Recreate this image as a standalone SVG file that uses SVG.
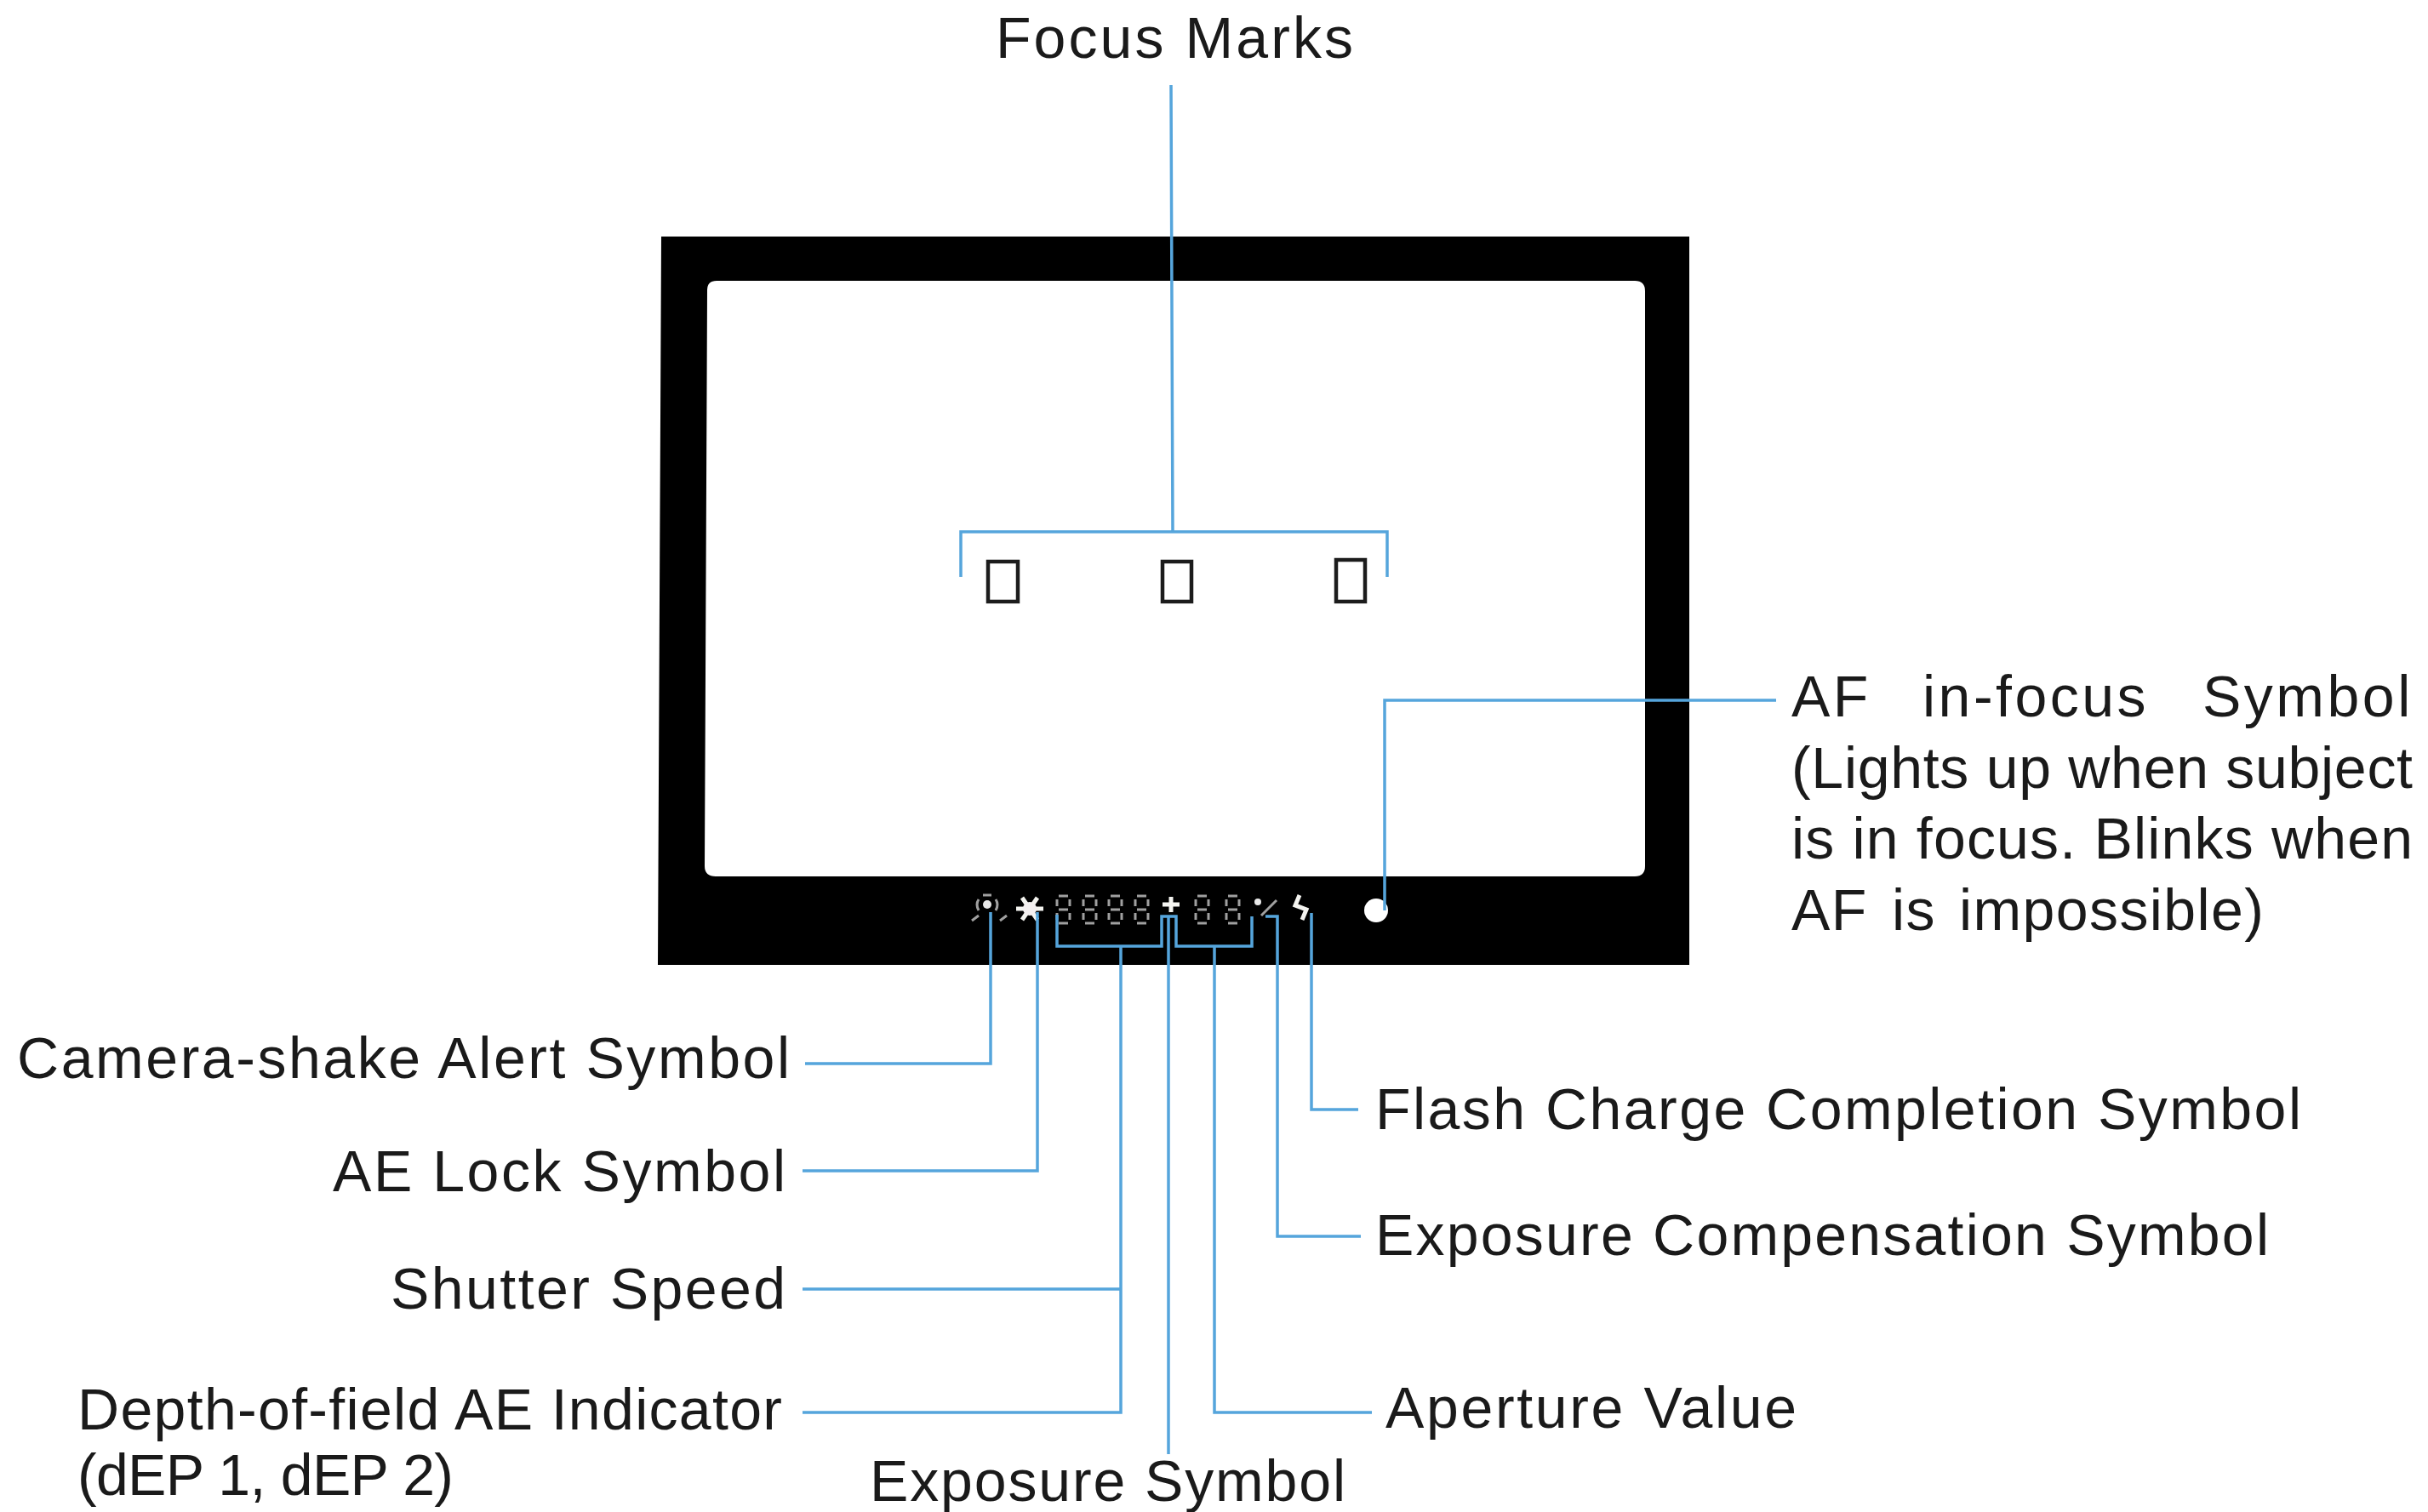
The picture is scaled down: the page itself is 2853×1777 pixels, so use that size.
<svg xmlns="http://www.w3.org/2000/svg" width="2853" height="1777" viewBox="0 0 2853 1777">
<style>
text{font-family:"Liberation Sans",Arial,sans-serif;font-size:68px;fill:#1a1a1a}
.c{fill:none;stroke:#55a5dc;stroke-width:3.5}
.m{fill:none;stroke:#1c1c1c;stroke-width:4.5}
.s{fill:none;stroke:#a0a0a0;stroke-width:3}
.w{fill:none;stroke:#f4f4f0;stroke-width:5}
</style>
<defs>
<g id="seg"><path class="s" d="M5 1H16M3 5V13M18 5V13M5 17H16M3 21V29M18 21V29M5 33H16"/></g>
</defs>
<g id="viewfinder">
<path fill="#000" fill-rule="evenodd" d="M777 278H1985V1134H773ZM842 330Q831 330 831 341L828 1018Q828 1030 841 1030H1921Q1933 1030 1933 1018V342Q1933 330 1921 330Z"/>
</g>
<g id="focus-marks">
<rect class="m" x="1161" y="660" width="35" height="47"/>
<rect class="m" x="1366" y="660" width="34" height="47"/>
<rect class="m" x="1570" y="658" width="34" height="49"/>
<text x="1170" y="68" textLength="420">Focus Marks</text>
</g>
<g id="display-symbols">
<circle cx="1160" cy="1063" r="5" fill="#e8e8e8"/>
<path class="s" d="M1150 1057Q1146 1063 1150 1070M1170 1057Q1174 1063 1170 1070M1155 1052H1165M1142 1082L1150 1076M1175 1082L1183 1076"/>
<path class="w" d="M1194 1068H1226M1201 1055L1219 1081M1219 1055L1201 1081"/>
<circle cx="1210" cy="1068" r="8" fill="#f4f0f0"/>
<use href="#seg" x="1239" y="1052"/><use href="#seg" x="1270" y="1052"/><use href="#seg" x="1300" y="1052"/><use href="#seg" x="1331" y="1052"/>
<path class="w" d="M1366 1063H1386M1376 1054V1072"/>
<use href="#seg" x="1402" y="1052"/><use href="#seg" x="1438" y="1052"/>
<circle cx="1478" cy="1060" r="4" fill="#e8e8e8"/>
<path class="s" d="M1482 1076L1500 1058"/>
<path class="w" d="M1527 1052L1522 1064L1535 1069L1530 1081"/>
</g>
<g id="af-dot"><circle cx="1617" cy="1070" r="14" fill="#fff"/></g>
<g id="connectors">
<path class="c" d="M1376 100L1378 625M1129 678V625H1630V678"/>
<path class="c" d="M1627 1070V823H2087"/>
<path class="c" d="M1164 1072V1250H946"/>
<path class="c" d="M1219 1072V1376H943"/>
<path class="c" d="M1242 1075V1112H1365V1077H1382V1112H1471V1077"/>
<path class="c" d="M1317 1112V1660H943M1317 1515H943"/>
<path class="c" d="M1373 1077V1709"/>
<path class="c" d="M1427 1112V1660H1612"/>
<path class="c" d="M1487 1077H1501V1453H1599"/>
<path class="c" d="M1541 1073V1304H1596"/>
</g>
<g id="labels-left">
<text x="20" y="1267" textLength="908">Camera-shake Alert Symbol</text>
<text x="391" y="1400" textLength="532">AE Lock Symbol</text>
<text x="459" y="1538" textLength="464">Shutter Speed</text>
<text x="91" y="1680" textLength="828">Depth-of-field AE Indicator</text>
<text x="91" y="1757" textLength="442">(dEP 1, dEP 2)</text>
</g>
<g id="labels-bottom">
<text x="1022" y="1764" textLength="559">Exposure Symbol</text>
</g>
<g id="labels-right">
<text x="1628" y="1678" textLength="483">Aperture Value</text>
<text x="1616" y="1475" textLength="1050">Exposure Compensation Symbol</text>
<text x="1616" y="1327" textLength="1088">Flash Charge Completion Symbol</text>
<text x="2105" y="842" letter-spacing="3.5">AF<tspan x="2259">in-focus</tspan><tspan x="2588">Symbol</tspan></text>
<text x="2105" y="926" textLength="730">(Lights up when subject</text>
<text x="2105" y="1009" textLength="730">is in focus. Blinks when</text>
<text x="2105" y="1093" letter-spacing="1.4">AF<tspan x="2223">is</tspan><tspan x="2302">impossible)</tspan></text>
</g>
</svg>
